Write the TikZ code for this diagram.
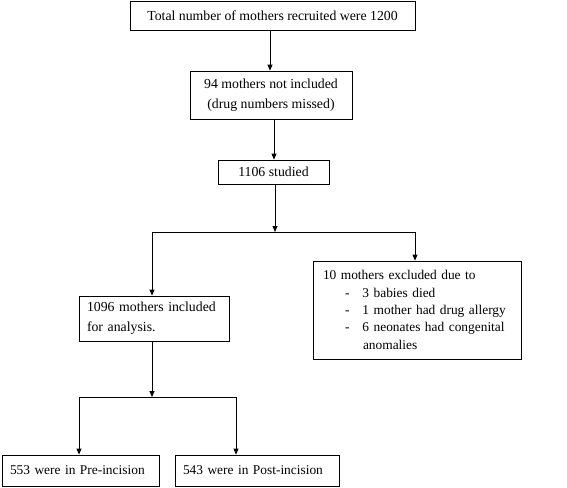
\documentclass[tikz,border=0pt]{standalone}
\usepackage{fontspec}
\setmainfont{Liberation Serif}
\usetikzlibrary{arrows.meta,calc}
\begin{document}
\begin{tikzpicture}[x=1pt,y=-1pt,
  box/.style={draw,line width=0.8pt,inner sep=0pt,font=\fontsize{13.8}{20}\selectfont},
  lbox/.style={box,align=left},
  arr/.style={-{Triangle[length=6pt,width=5pt]},line width=0.8pt},
  ln/.style={line width=0.8pt}]
\useasboundingbox (0,0) rectangle (567,487);
\node[box,minimum width=285pt,minimum height=29pt] (b1) at (272.5,15.5) {Total number of mothers recruited were 1200};
\node[box,align=center,minimum width=162pt,minimum height=48pt] (b2) at (271,95) {94 mothers not included\\(drug numbers missed)};
\node[box,minimum width=111pt,minimum height=24pt] (b3) at (273.5,172) {1106 studied};
\node[lbox,text width=188pt,inner xsep=10pt,minimum height=98pt,font=\fontsize{13.4}{17.3}\selectfont] (r) at (417,310) {10 mothers\ excluded due to\\
\hspace*{22pt}-\hspace*{13pt}3 babies\ died\\
\hspace*{22pt}-\hspace*{13pt}1 mother had drug allergy\\
\hspace*{22pt}-\hspace*{13pt}6 neonates had congenital\\
\hspace*{40pt}anomalies};
\node[lbox,text width=134pt,inner xsep=8pt,minimum height=45pt] (l) at (154,318.5) {1096 mothers included\\for analysis.};
\node[lbox,text width=141pt,inner xsep=8pt,minimum height=31pt,font=\fontsize{13.4}{20}\selectfont] (bl) at (80.5,470.5) {553 were in\ Pre-incision};
\node[lbox,text width=148pt,inner xsep=8pt,minimum height=31pt,font=\fontsize{13.4}{20}\selectfont] (br) at (257,470.5) {543 were in\ Post-incision};
\coordinate (j1) at (275,232);
\coordinate (j1l) at (152,232);
\coordinate (j1r) at (415,232);
\coordinate (j2) at (152,397);
\coordinate (j2l) at (79,397);
\coordinate (j2r) at (236,397);
\draw[arr] (270,0 |- b1.south) -- (270,0 |- b2.north);
\draw[arr] (274,0 |- b2.south) -- (274,0 |- b3.north);
\draw[arr] (275,0 |- b3.south) -- (j1);
\draw[ln] (j1l) -- (j1r);
\draw[arr] (j1l) -- (j1l |- l.north);
\draw[arr] (j1r) -- (j1r |- r.north);
\draw[arr] (j2 |- l.south) -- (j2);
\draw[ln] (j2l) -- (j2r);
\draw[arr] (j2l) -- (j2l |- bl.north);
\draw[arr] (j2r) -- (j2r |- br.north);
\end{tikzpicture}
\end{document}
